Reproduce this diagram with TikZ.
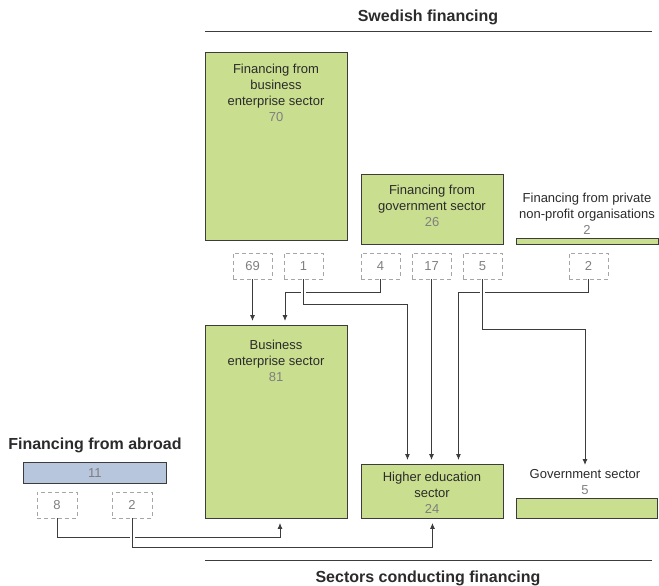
\documentclass[tikz,border=0pt]{standalone}
\usepackage{fontspec}
\setmainfont{Liberation Sans}
\usetikzlibrary{positioning, arrows.meta}
\definecolor{sectorgreen}{HTML}{C9DF8F}
\definecolor{abroadblue}{HTML}{B8C6DD}
\definecolor{linegray}{HTML}{3C3C3C}
\definecolor{textgray}{HTML}{2B2B2B}
\definecolor{numgray}{HTML}{7F7F7F}

\begin{document}
\begin{tikzpicture}[
  x=1pt, y=-1pt,
  font=\fontsize{13}{16}\selectfont,
  every node/.style={text=textgray},
  sector/.style={draw=linegray, line width=0.9pt, fill=sectorgreen, anchor=north west, inner sep=0pt},
  share/.style={draw=gray!70, line width=0.7pt, dash pattern=on 4pt off 3pt, minimum width=39pt, minimum height=26pt, inner sep=0pt, text=numgray},
  heading/.style={font=\fontsize{16}{19}\selectfont\bfseries},
  boxtext/.style={align=center, anchor=north, inner sep=0pt},
  flow/.style={draw=linegray, line width=0.9pt, -{Latex[length=6pt,width=5pt]}, shorten >=4pt},
  gap/.style={preaction={draw=white, -, line width=5pt, shorten <=3pt, shorten >=9pt}}
]
\useasboundingbox (0,0) rectangle (659,586);

% Swedish financing
\node[heading] (swe) at (428,17) {Swedish financing};
\draw[linegray, line width=0.9pt] (205,31) -- (652,31);

\node[sector, minimum width=142pt, minimum height=188pt] (fbus) at (205,52) {};
\node[boxtext] (fbustxt) at (276,64) {Financing from\\business\\enterprise sector\\\textcolor{numgray}{70}};
\node[sector, minimum width=142pt, minimum height=70pt] (fgov) at (361,174) {};
\node[boxtext] (fgovtxt) at (432,185) {Financing from\\government sector\\\textcolor{numgray}{26}};
\node[sector, minimum width=142pt, minimum height=6pt] (fpriv) at (516,238) {};
\node[boxtext] (fprivtxt) at (587,193) {Financing from private\\non-profit organisations\\\textcolor{numgray}{2}};

% shares
\node[share] (d69) at (252.5,266) {69};
\node[share] (d1) at (303.5,266) {1};
\node[share] (d4) at (380.5,266) {4};
\node[share] (d17) at (431.5,266) {17};
\node[share] (d5) at (482.5,266) {5};
\node[share] (dp2) at (588.5,266) {2};

% Sectors conducting
\node[sector, minimum width=142pt, minimum height=193pt] (bus) at (205,325) {};
\node[boxtext] (bustxt) at (276,340) {Business\\enterprise sector\\\textcolor{numgray}{81}};
\node[sector, minimum width=142pt, minimum height=54pt] (he) at (361,464) {};
\node[boxtext] (hetxt) at (432,472) {Higher education\\sector\\\textcolor{numgray}{24}};
\node[sector, minimum width=141pt, minimum height=20pt] (gov) at (516,498) {};
\node[boxtext] (govtxt) at (585,469) {Government sector\\\textcolor{numgray}{5}};

% Financing from abroad
\node[heading] (abr) at (95,445) {Financing from abroad};
\node[sector, fill=abroadblue, minimum width=143pt, minimum height=21pt, text=numgray] (abar) at (23,462) {11};
\node[share, minimum width=40pt] (d8) at (57,505) {8};
\node[share, minimum width=40pt] (da2) at (132,505) {2};

\node[heading] (sect) at (428,578) {Sectors conducting financing};
\draw[linegray, line width=0.9pt] (205,560) -- (652,560);

% flows
\draw[flow] (d69.south) -- (d69.south |- bus.north);
\draw[flow] (d4.south) -- ++(0,13) -| ([xshift=80pt]bus.north west);
\draw[flow, gap] (d1.south) -- ++(0,25) -| ([xshift=-25pt]he.north);
\draw[flow] (d17.south) -- (d17.south |- he.north);
\draw[flow] (dp2.south) -- ++(0,13) -| ([xshift=26pt]he.north);
\draw[flow, gap] (d5.south) -- ++(0,50) -| (govtxt.north);
\draw[flow] (d8.south) -- ++(0,19) -| ([xshift=75pt]bus.south west);
\draw[flow, gap] (da2.south) -- ++(0,29) -| (he.south);
\end{tikzpicture}
\end{document}
